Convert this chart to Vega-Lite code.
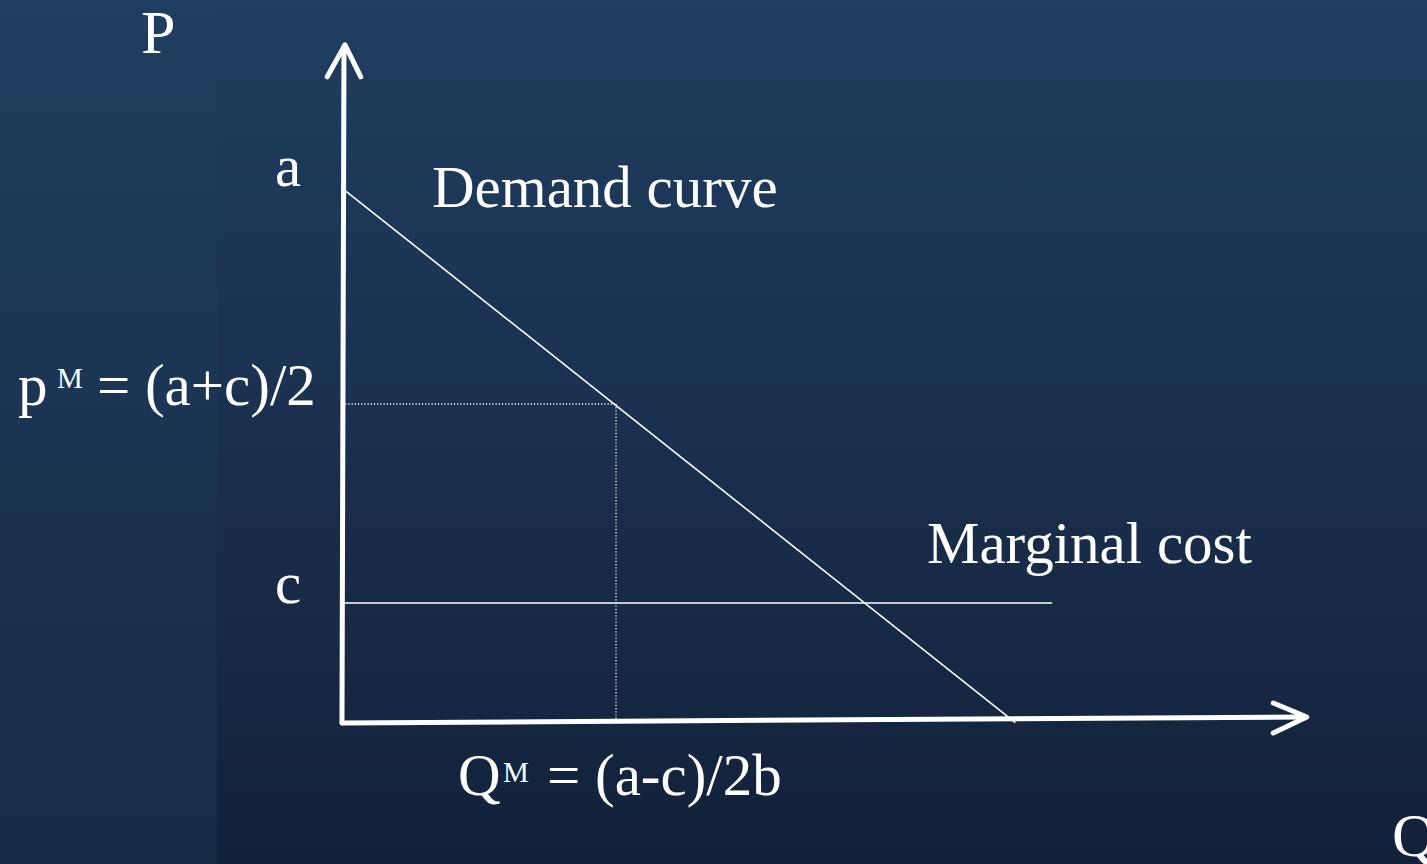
{
  "$schema": "https://vega.github.io/schema/vega-lite/v6.json",
  "width": 1427,
  "height": 864,
  "autosize": {"type": "none"},
  "padding": 0,
  "background": "#192f4c",
  "config": {"view": {"stroke": null}},
  "datasets": {
    "bg": [
      {"part": "main", "q0": -5.104, "q1": 16.194, "p0": -2.707, "p1": 13.534},
      {"part": "strip", "q0": -5.104, "q1": -1.866, "p0": -2.707, "p1": 13.534}
    ],
    "lines": [
      {"kind": "thin", "seg": "demand", "ord": 1, "q": 0, "p": 10},
      {"kind": "thin", "seg": "demand", "ord": 2, "q": 10.05, "p": -0.05},
      {"kind": "thin", "seg": "mc", "ord": 1, "q": 0, "p": 2.2},
      {"kind": "thin", "seg": "mc", "ord": 2, "q": 10.6, "p": 2.2},
      {"kind": "dot", "seg": "dh", "ord": 1, "q": 0, "p": 5.94},
      {"kind": "dot", "seg": "dh", "ord": 2, "q": 4.09, "p": 5.94},
      {"kind": "dot", "seg": "dv", "ord": 1, "q": 4.09, "p": 5.94},
      {"kind": "dot", "seg": "dv", "ord": 2, "q": 4.09, "p": 0},
      {"kind": "axis", "seg": "yaxis", "ord": 1, "q": 0, "p": -0.056},
      {"kind": "axis", "seg": "yaxis", "ord": 2, "q": 0.03, "p": 12.66},
      {"kind": "axis", "seg": "xaxis", "ord": 1, "q": 0, "p": -0.056},
      {"kind": "axis", "seg": "xaxis", "ord": 2, "q": 14.38, "p": 0.056},
      {"kind": "axis", "seg": "yarrow", "ord": 1, "q": -0.22, "p": 12.09},
      {"kind": "axis", "seg": "yarrow", "ord": 2, "q": 0.045, "p": 12.69},
      {"kind": "axis", "seg": "yarrow", "ord": 3, "q": 0.28, "p": 12.09},
      {"kind": "axis", "seg": "xarrow", "ord": 1, "q": 13.9, "p": 0.32},
      {"kind": "axis", "seg": "xarrow", "ord": 2, "q": 14.4, "p": 0.056},
      {"kind": "axis", "seg": "xarrow", "ord": 3, "q": 13.9, "p": -0.244}
    ],
    "labels": [
      {"role": "big", "label": "P", "q": -3.0, "p": 12.54},
      {"role": "big", "label": "Q", "q": 15.67, "p": -2.556},
      {"role": "main", "label": "a", "q": -1.0, "p": 10.04},
      {"role": "main", "label": "Demand curve", "q": 1.343, "p": 9.64},
      {"role": "main", "label": "p", "q": -4.836, "p": 5.92},
      {"role": "sup", "label": "M", "q": -4.254, "p": 6.24},
      {"role": "main", "label": "= (a+c)/2", "q": -3.657, "p": 5.92},
      {"role": "main", "label": "c", "q": -1.0, "p": 2.2},
      {"role": "main", "label": "Marginal cost", "q": 8.731, "p": 2.95},
      {"role": "main", "label": "Q", "q": 1.731, "p": -1.41},
      {"role": "sup", "label": "M", "q": 2.403, "p": -1.165},
      {"role": "main", "label": "= (a-c)/2b", "q": 3.06, "p": -1.41}
    ]
  },
  "encoding": {
    "x": {"field": "q", "type": "quantitative", "scale": {"domain": [-5.104, 16.194], "nice": false, "zero": false}, "axis": null},
    "y": {"field": "p", "type": "quantitative", "scale": {"domain": [-2.707, 13.534], "nice": false, "zero": false}, "axis": null}
  },
  "layer": [
    {
      "data": {"name": "bg"},
      "transform": [{"filter": "datum.part === 'main'"}],
      "mark": {"type": "rect", "color": {"gradient": "linear", "x1": 0, "y1": 0, "x2": 0, "y2": 1, "stops": [{"offset": 0, "color": "#1f3e60"}, {"offset": 0.5, "color": "#1a304f"}, {"offset": 1, "color": "#12213a"}]}},
      "encoding": {
        "x": {"field": "q0", "type": "quantitative"},
        "x2": {"field": "q1"},
        "y": {"field": "p0", "type": "quantitative"},
        "y2": {"field": "p1"}
      }
    },
    {
      "data": {"name": "bg"},
      "transform": [{"filter": "datum.part === 'strip'"}],
      "mark": {"type": "rect", "color": {"gradient": "linear", "x1": 0, "y1": 0, "x2": 0, "y2": 1, "stops": [{"offset": 0, "color": "#1f3e60"}, {"offset": 0.5, "color": "#1b3453"}, {"offset": 1, "color": "#172c46"}]}},
      "encoding": {
        "x": {"field": "q0", "type": "quantitative"},
        "x2": {"field": "q1"},
        "y": {"field": "p0", "type": "quantitative"},
        "y2": {"field": "p1"}
      }
    },
    {
      "data": {"name": "lines"},
      "transform": [{"filter": "datum.kind === 'thin'"}],
      "mark": {"type": "line", "color": "white", "strokeWidth": 1.6},
      "encoding": {"detail": {"field": "seg"}, "order": {"field": "ord"}}
    },
    {
      "data": {"name": "lines"},
      "transform": [{"filter": "datum.kind === 'dot'"}],
      "mark": {"type": "line", "color": "white", "strokeWidth": 1.3, "strokeDash": [1.2, 2]},
      "encoding": {"detail": {"field": "seg"}, "order": {"field": "ord"}}
    },
    {
      "data": {"name": "lines"},
      "transform": [{"filter": "datum.kind === 'axis'"}],
      "mark": {"type": "line", "color": "white", "strokeWidth": 5, "strokeCap": "round", "strokeJoin": "round"},
      "encoding": {"detail": {"field": "seg"}, "order": {"field": "ord"}}
    },
    {
      "data": {"name": "labels"},
      "transform": [{"filter": "datum.role === 'main'"}],
      "mark": {"type": "text", "color": "white", "font": "Liberation Serif", "fontSize": 59, "align": "left", "baseline": "alphabetic"},
      "encoding": {"text": {"field": "label"}}
    },
    {
      "data": {"name": "labels"},
      "transform": [{"filter": "datum.role === 'sup'"}],
      "mark": {"type": "text", "color": "white", "font": "Liberation Serif", "fontSize": 29, "align": "left", "baseline": "alphabetic"},
      "encoding": {"text": {"field": "label"}}
    },
    {
      "data": {"name": "labels"},
      "transform": [{"filter": "datum.role === 'big'"}],
      "mark": {"type": "text", "color": "white", "font": "Liberation Serif", "fontSize": 62, "align": "left", "baseline": "alphabetic"},
      "encoding": {"text": {"field": "label"}}
    }
  ]
}
